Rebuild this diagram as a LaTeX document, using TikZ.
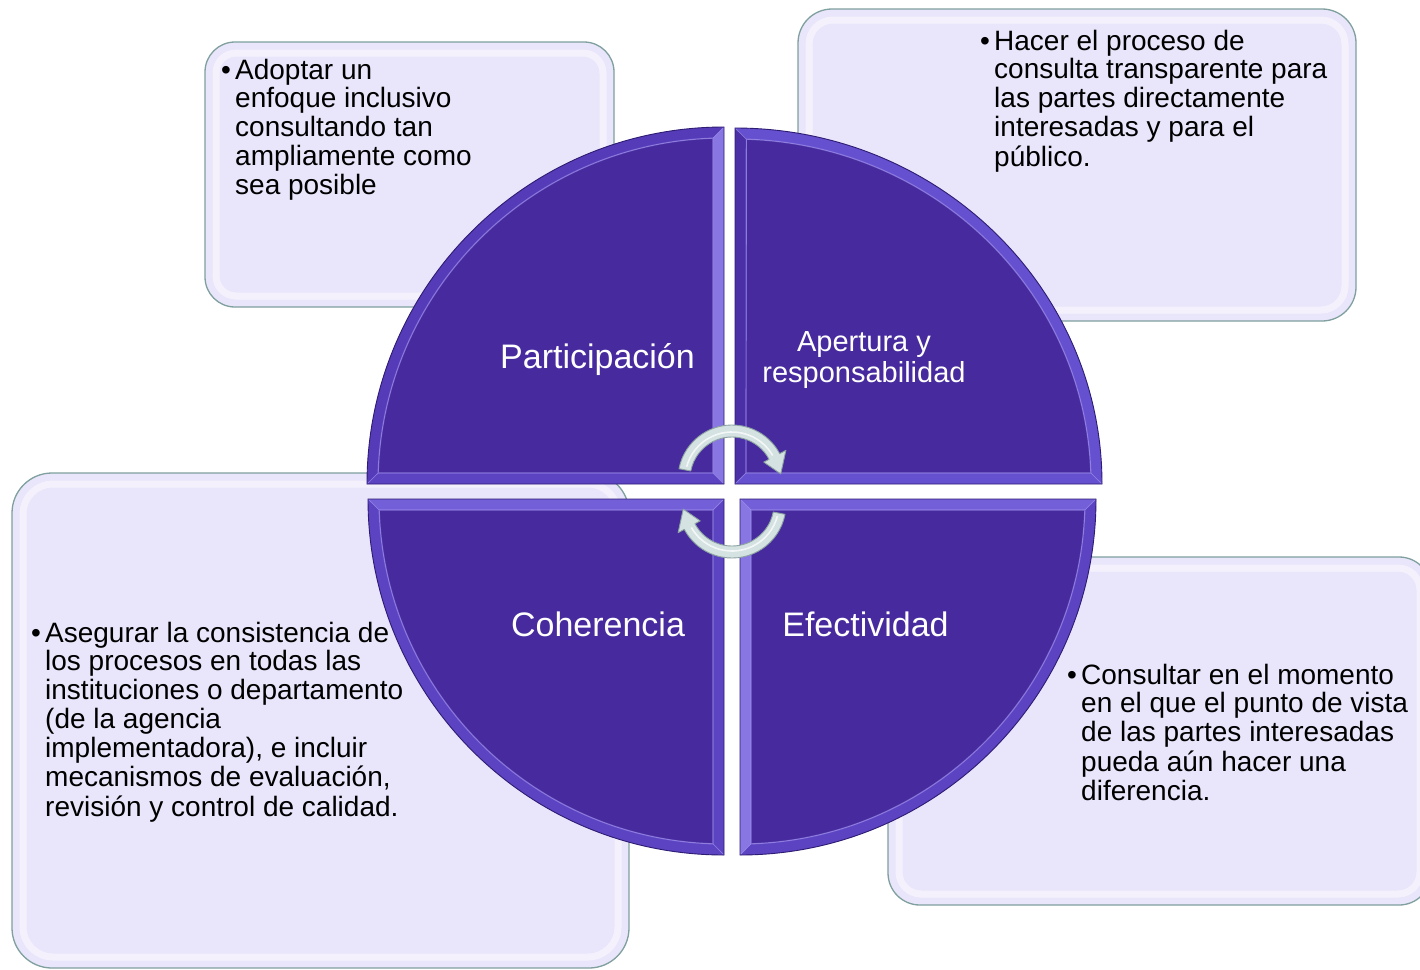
\documentclass[tikz,border=0pt]{standalone}
\usepackage{fontspec}
\setmainfont{Liberation Sans}
\usetikzlibrary{calc}
\definecolor{qmain}{HTML}{472B9E}
\definecolor{boxfill}{HTML}{E9E5FA}
\definecolor{boxedge}{HTML}{7FA09E}
\definecolor{boxglow}{HTML}{F6F4FE}
\definecolor{qedge}{HTML}{2E1B72}
\definecolor{qhi}{HTML}{9A8BEC}
\definecolor{bandA}{HTML}{563BB8}
\definecolor{bandB}{HTML}{8876E2}
\definecolor{bandC}{HTML}{5C43C2}
\definecolor{bandD}{HTML}{6550CF}
\definecolor{bandE}{HTML}{4A2FA6}
\definecolor{bandF}{HTML}{7360D8}
\definecolor{arrfill}{HTML}{D4E2E1}
\definecolor{arredge}{HTML}{8CA3A2}
\newcommand\qbev{11}
% #1 Ox  #2 Oy  #3 start angle (vertical end)  #4 end angle (horizontal end)
% #5 rx  #6 ry  #7 arc band colour  #8 vertical band colour  #9 horizontal band colour
\newcommand\drawquad[9]{%
  \pgfmathsetmacro\qsg{sign(#4-#3)}%
  \pgfmathsetmacro\qdel{asin(\qbev/(min(#5,#6)-\qbev))}%
  \pgfmathsetmacro\qia{#4-\qsg*\qdel}%
  \pgfmathsetmacro\qib{#3+\qsg*\qdel}%
  \pgfmathsetmacro\qrx{#5-\qbev}%
  \pgfmathsetmacro\qry{#6-\qbev}%
  \pgfmathsetmacro\qsx{cos(#4)}%
  \pgfmathsetmacro\qsy{sin(#3)}%
  \coordinate (O) at (#1,#2);
  \coordinate (Pv) at ({#1+#5*cos(#3)},{#2+#6*sin(#3)});
  \coordinate (Ph) at ({#1+#5*cos(#4)},{#2+#6*sin(#4)});
  \coordinate (Iv) at ({#1+\qrx*cos(\qib)},{#2+\qry*sin(\qib)});
  \coordinate (Ih) at ({#1+\qrx*cos(\qia)},{#2+\qry*sin(\qia)});
  \coordinate (I) at ({#1+\qsx*\qbev},{#2+\qsy*\qbev});
  \fill[#7] (Pv) arc[start angle=#3,end angle=#4,x radius=#5,y radius=#6]
     -- (Ih) arc[start angle=\qia,end angle=\qib,x radius=\qrx,y radius=\qry] -- cycle;
  \fill[#8] (Pv) -- (O) -- (I) -- (Iv) -- cycle;
  \fill[#9] (O) -- (Ph) -- (Ih) -- (I) -- cycle;
  \fill[qmain] (I) -- (Iv) arc[start angle=\qib,end angle=\qia,x radius=\qrx,y radius=\qry] -- cycle;
  \draw[qhi, line width=1.2pt, opacity=.7] (I) -- (Iv) arc[start angle=\qib,end angle=\qia,x radius=\qrx,y radius=\qry] -- cycle;
  \draw[qhi, line width=.8pt, opacity=.6] (O) -- (I) (Pv) -- (Iv) (Ph) -- (Ih);
  \draw[qedge, line width=.9pt] (O) -- (Pv) arc[start angle=#3,end angle=#4,x radius=#5,y radius=#6] -- cycle;
}
% #1 x1 #2 y1 #3 x2 #4 y2 #5 corner radius #6 inner radius
\newcommand\infobox[6]{%
  \draw[fill=boxfill, draw=boxedge, line width=1.3pt, rounded corners=#5pt] (#1,#2) rectangle (#3,#4);
  \draw[draw=boxglow, line width=7pt, opacity=.85, rounded corners=#6pt] ({#1+11},{#2+11}) rectangle ({#3-11},{#4-11});
}
% #1 cx #2 cy #3 tail angle #4 head base angle #5 tip angle
\newcommand\circarrow[5]{%
  \draw[fill=arrfill, draw=arredge, line width=0.9pt, line join=round]
    ({#1+54*cos(#3)},{#2+54*sin(#3)}) arc[start angle=#3, end angle=#4, radius=54]
    -- ({#1+61*cos(#4)},{#2+61*sin(#4)})
    -- ({#1+49*cos(#5)},{#2+49*sin(#5)})
    -- ({#1+36*cos(#4)},{#2+36*sin(#4)})
    -- ({#1+42*cos(#4)},{#2+42*sin(#4)})
    arc[start angle=#4, end angle=#3, radius=42] -- cycle;
  \draw[white, line width=1.6pt, opacity=.75] ({#1+47*cos(#3+4)},{#2+47*sin(#3+4)}) arc[start angle=#3+4, end angle=#4-2, radius=47];
}
\tikzset{
  boxtxt/.style={inner sep=0pt, anchor=base west, text=black, font=\fontsize{28}{28.8}\selectfont},
  qlabel/.style={inner sep=0pt, anchor=base, text=white, font=\fontsize{34}{40}\selectfont}
}
\begin{document}
\begin{tikzpicture}[x=1pt, y=-1pt]
\useasboundingbox (0,0) rectangle (1420,969);
\clip (0,0) rectangle (1420,969);
\fill[white] (0,0) rectangle (1420,969);

% boxes
\infobox{205}{42}{614}{307}{30}{20}
\infobox{798}{9}{1356}{321}{34}{24}
\infobox{12}{473}{629}{968}{40}{30}
\infobox{888}{557}{1431}{905}{32}{22}

% quadrants
\drawquad{724}{484}{-90}{-180}{357}{357}{bandA}{bandB}{bandC}
\drawquad{735}{484}{-90}{0}{367}{356}{bandD}{bandE}{bandD}
\drawquad{740}{499}{90}{0}{356}{356}{bandC}{bandB}{bandF}
\drawquad{724}{499}{90}{180}{356}{356}{bandC}{bandC}{bandF}

% circular arrows
\circarrow{732}{479}{191}{332}{354}
\circarrow{732}{504}{11}{152}{174}

% quadrant labels
\node[qlabel] (lP) at (597.5,368) {Participación};
\node[qlabel, font=\fontsize{29}{31}\selectfont] (lA) at (864,351)
  {\begin{tabular}[t]{@{}c@{}}Apertura y\\responsabilidad\end{tabular}};
\node[qlabel] (lC) at (598,636) {Coherencia};
\node[qlabel] (lE) at (865.5,636) {Efectividad};

% box texts
\node[boxtxt] (tTL) at (221,79) {\begin{tabular}[t]{@{}p{14pt}@{}l@{}}•&Adoptar un\\&enfoque inclusivo\\&consultando tan\\&ampliamente como\\&sea posible\end{tabular}};
\node[boxtxt] (tTR) at (980,50) {\begin{tabular}[t]{@{}p{14pt}@{}l@{}}•&Hacer el proceso de\\&consulta transparente para\\&las partes directamente\\&interesadas y para el\\&público.\end{tabular}};
\node[boxtxt] (tBL) at (31,642) {\begin{tabular}[t]{@{}p{14pt}@{}l@{}}•&Asegurar la consistencia de\\&los procesos en todas las\\&instituciones o departamento\\&(de la agencia\\&implementadora), e incluir\\&mecanismos de evaluación,\\&revisión y control de calidad.\end{tabular}};
\node[boxtxt] (tBR) at (1067,684) {\begin{tabular}[t]{@{}p{14pt}@{}l@{}}•&Consultar en el momento\\&en el que el punto de vista\\&de las partes interesadas\\&pueda aún hacer una\\&diferencia.\end{tabular}};
\end{tikzpicture}
\end{document}
